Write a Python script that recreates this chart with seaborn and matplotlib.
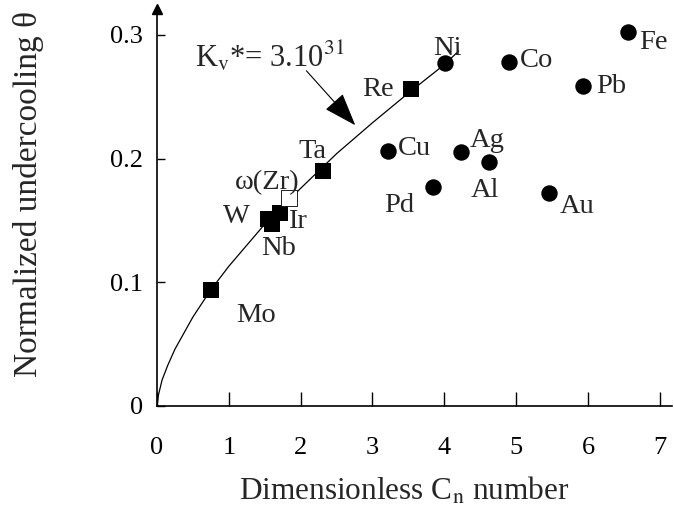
import matplotlib
matplotlib.use("Agg")
import matplotlib.pyplot as plt
import seaborn as sns

# Metals on the fitted curve (filled squares)
sq_names = ["Mo", "W", "Nb", "Ir", "Ta", "Re"]
sq_x = [0.75, 1.55, 1.60, 1.71, 2.31, 3.54]
sq_y = [0.094, 0.151, 0.147, 0.156, 0.190, 0.256]

# omega(Zr) (open square)
zr_x = [1.84]
zr_y = [0.168]

# Other metals (filled circles)
circ_names = ["Ni", "Co", "Fe", "Pb", "Cu", "Ag", "Al", "Pd", "Au"]
circ_x = [4.01, 4.90, 6.56, 5.93, 3.22, 4.23, 4.62, 3.84, 5.46]
circ_y = [0.277, 0.278, 0.302, 0.259, 0.206, 0.205, 0.197, 0.177, 0.172]

# Curve for Kv* = 3.10^31
curve_x = [0, 0.02, 0.07, 0.15, 0.25, 0.5, 0.75, 1.0, 1.5, 2.0, 2.5, 3.0, 3.5, 4.0, 4.2]
curve_y = [0, 0.009, 0.021, 0.033, 0.046, 0.072, 0.094, 0.113, 0.147, 0.176,
           0.204, 0.229, 0.253, 0.276, 0.287]

# Label positions for each element
label_names = ["Mo", "W", "Nb", "Ir", "Ta", "Re", "\u03c9(Zr)", "Ni", "Co", "Fe",
               "Pb", "Cu", "Ag", "Al", "Pd", "Au"]
label_x = [1.38, 1.10, 1.69, 1.95, 2.16, 3.08, 1.54, 4.04, 5.28, 6.91,
           6.32, 3.58, 4.60, 4.57, 3.37, 5.85]
label_y = [0.073, 0.153, 0.127, 0.149, 0.206, 0.256, 0.181, 0.289, 0.279, 0.294,
           0.258, 0.208, 0.215, 0.174, 0.162, 0.161]

x_ticks = [0, 1, 2, 3, 4, 5, 6, 7]
y_ticks = [0, 0.1, 0.2, 0.3]
y_ticklabels = ["0", "0.1", "0.2", "0.3"]

sns.set_theme(style="ticks")
plt.rcParams["font.family"] = ["Liberation Serif", "DejaVu Serif"]
plt.rcParams["mathtext.fontset"] = "stix"

fig = plt.figure(figsize=(6.74, 5.09), dpi=100)
ax = fig.add_axes([0.233, 0.2024, 0.764, 0.780])

sns.lineplot(x=curve_x, y=curve_y, color="black", lw=0.9, sort=False, ax=ax)
sns.scatterplot(x=sq_x, y=sq_y, marker="s", s=120, color="black",
                edgecolor="black", linewidth=0, ax=ax, zorder=3)
sns.scatterplot(x=zr_x, y=zr_y, marker="s", s=120, color="white",
                edgecolor="black", linewidth=0.6, ax=ax, zorder=3)
sns.scatterplot(x=circ_x, y=circ_y, marker="o", s=140, color="black",
                edgecolor="black", linewidth=0, ax=ax, zorder=3)

for name, lx, ly in zip(label_names, label_x, label_y):
    ax.text(lx, ly, name, ha="center", va="center", fontsize=20.5)

ax.text(0.53, 0.274, r"K$_{\mathrm{v}}$*= 3.10$^{31}$", ha="left",
        va="baseline", fontsize=22)
ax.annotate("", xy=(2.76, 0.227), xytext=(2.08, 0.271),
            arrowprops=dict(arrowstyle="-|>,head_length=1.4,head_width=0.5",
                            mutation_scale=15, color="black", lw=0.8,
                            shrinkA=0, shrinkB=0))

ax.set_xlim(0, 7.17)
ax.set_ylim(0, 0.321)
ax.set_xticks(x_ticks)
ax.set_yticks(y_ticks)
ax.set_yticklabels(y_ticklabels)
sns.despine(ax=ax)
for side in ["left", "bottom"]:
    ax.spines[side].set_color("black")
    ax.spines[side].set_linewidth(1.2)
ax.tick_params(axis="x", direction="in", length=10, width=1, pad=22,
               labelsize=19, colors="black")
ax.tick_params(axis="y", direction="in", length=6, width=1, pad=10,
               labelsize=19, colors="black")

# arrow head on top of the y axis
ax.plot(0, 1, marker="^", markersize=7, color="black", transform=ax.transAxes,
        clip_on=False)

ax.set_xlabel(r"Dimensionless C$_{\mathrm{n}}$ number", fontsize=22.5)
ax.set_ylabel("Normalized undercooling \u03b8", fontsize=24)
ax.xaxis.label.set_va("center")
ax.yaxis.label.set_va("center")
ax.xaxis.set_label_coords(0.48, -0.214)
ax.yaxis.set_label_coords(-0.249, 0.534)

fig.savefig("out.png", dpi=100)
